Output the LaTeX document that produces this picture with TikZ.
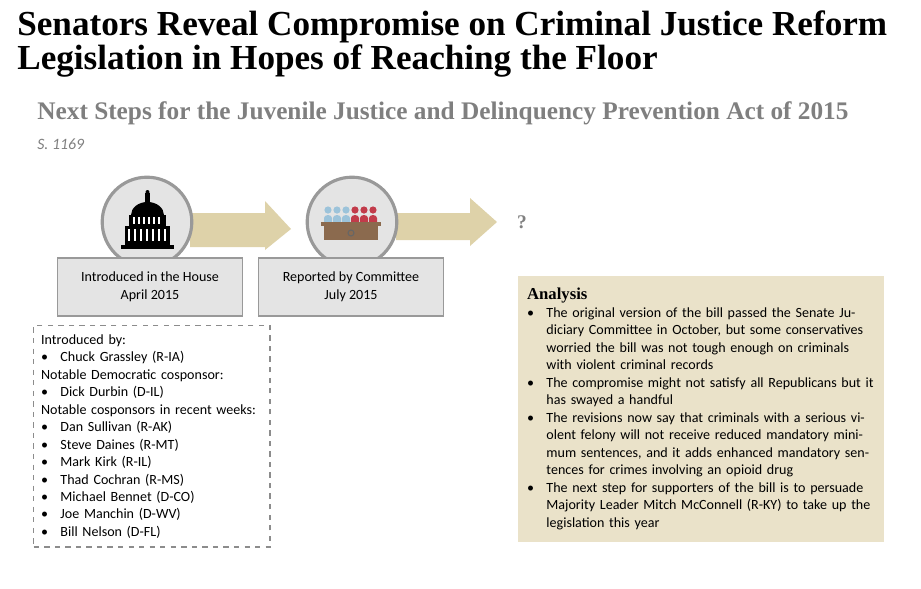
\documentclass[tikz,border=0pt]{standalone}
\usepackage{fontspec}
\setmainfont{Carlito}
\newfontfamily\headfont{Liberation Serif}
\usetikzlibrary{positioning}
\definecolor{tan}{HTML}{DED2A9}
\definecolor{panel}{HTML}{EAE2C9}
\definecolor{greybox}{HTML}{E4E4E4}
\definecolor{subgrey}{HTML}{7F7F7F}
\definecolor{demblue}{HTML}{9CC3DA}
\definecolor{repred}{HTML}{C23B4A}
\definecolor{bench}{HTML}{8B6A4E}
\newcommand{\bul}[1]{\par\hangindent=11pt\hangafter=1\makebox[11pt][l]{\textbullet}#1}
\tikzset{
  stage/.style={circle,draw=gray!80,line width=1.8pt,fill=greybox,minimum size=51pt},
  stepbox/.style={rectangle,draw=gray!80,line width=0.8pt,fill=greybox,minimum width=105pt,minimum height=33pt,align=center,font=\fontsize{8}{10}\selectfont},
  flow/.style={fill=tan}
}
\begin{document}
\begin{tikzpicture}[x=0.02cm,y=-0.02cm]
  \useasboundingbox (0,0) rectangle (921,589);

  %% titles
  \node (title) [anchor=north west,align=left,inner sep=0pt,font=\headfont\bfseries\fontsize{20}{17.5}\selectfont] at (17,10)
    {Senators Reveal Compromise on Criminal Justice Reform\\Legislation in Hopes of Reaching the Floor};
  \node (sub) [anchor=west,inner sep=0pt,text=subgrey,font=\headfont\bfseries\fontsize{14.4}{16}\selectfont] at (37,113)
    {Next Steps for the Juvenile Justice and Delinquency Prevention Act of 2015};
  \node (bill) [anchor=west,inner sep=0pt,text=subgrey,font=\itshape\fontsize{9}{10}\selectfont] at (37,144) {S. 1169};

  %% arrows
  \fill[flow] (190,213) -- (265,213) -- (265,201) -- (291,229) -- (265,250) -- (265,247) -- (190,247) -- cycle;
  \fill[flow] (396,213) -- (470,213) -- (470,198) -- (497,222) -- (470,246) -- (470,240) -- (396,240) -- cycle;
  \node (q) [text=gray,font=\headfont\bfseries\fontsize{11}{12}\selectfont] at (522,222) {?};

  %% stages
  \node (house) [stage] at (147,222) {};
  \node (cmte) [stage] at (352,222) {};
  \node (hbox) [stepbox] at (150,287) {Introduced in the House\\April 2015};
  \node (cbox) [stepbox] at (351,287) {Reported by Committee\\July 2015};

  %% capitol icon
  \fill[black] (121,245) rectangle (174,249);
  \fill[black] (125,226) rectangle (170,245);
  \fill[black] (129,215) rectangle (166,226);
  \fill[black] (131,215) arc (180:360:16.5 and 13) -- cycle;
  \fill[black] (145,204) rectangle (150,193);
  \fill[black] (147.5,192) circle (2);
  \foreach \xx in {128,134,...,164} \fill[white] (\xx,229) rectangle ++(2,12);
  \foreach \xx in {133,138,...,160} \fill[white] (\xx,217) rectangle ++(1.5,7);

  %% committee icon
  \foreach \xx/\cc in {328/demblue,337/demblue,346/demblue,355/repred,364/repred,373/repred} {
    \fill[\cc] (\xx,210) circle (3.6);
    \fill[\cc] (\xx-4,225) -- (\xx-4,218) arc (180:360:4 and 3) -- (\xx+4,225) -- cycle;
  }
  \fill[bench] (321,222) rectangle (381,226);
  \fill[bench] (324,226) rectangle (378,240);
  \draw[black!60,line width=0.6pt] (351,233) circle (3);

  %% sponsors
  \node (sponsors) [draw=gray!90,dashed,line width=0.8pt,anchor=north west,minimum width=134.5pt,minimum height=126pt,
     text width=126pt,inner sep=4pt,align=left,font=\fontsize{8}{9.95}\selectfont] at (33,325) {%
    Introduced by:
    \bul{Chuck Grassley (R-IA)}
    \par Notable Democratic cosponsor:
    \bul{Dick Durbin (D-IL)}
    \par Notable cosponsors in recent weeks:
    \bul{Dan Sullivan (R-AK)}
    \bul{Steve Daines (R-MT)}
    \bul{Mark Kirk (R-IL)}
    \bul{Thad Cochran (R-MS)}
    \bul{Michael Bennet (D-CO)}
    \bul{Joe Manchin (D-WV)}
    \bul{Bill Nelson (D-FL)}};

  %% analysis
  \node (analysis) [fill=panel,anchor=north west,minimum width=208pt,minimum height=151pt,text width=198pt,
     inner sep=5pt,align=left,font=\fontsize{8}{9.95}\selectfont] at (518,276) {%
    {\headfont\bfseries\fontsize{9.5}{10}\selectfont Analysis}
    \bul{The original version of the bill passed the Senate Judiciary Committee in October, but some conservatives worried the bill was not tough enough on criminals with violent criminal records}
    \bul{The compromise might not satisfy all Republicans but it has swayed a handful}
    \bul{The revisions now say that criminals with a serious violent felony will not receive reduced mandatory minimum sentences, and it adds enhanced mandatory sentences for crimes involving an opioid drug}
    \bul{The next step for supporters of the bill is to persuade Majority Leader Mitch McConnell (R-KY) to take up the legislation this year}
    \par\vspace{10pt}};
\end{tikzpicture}
\end{document}
